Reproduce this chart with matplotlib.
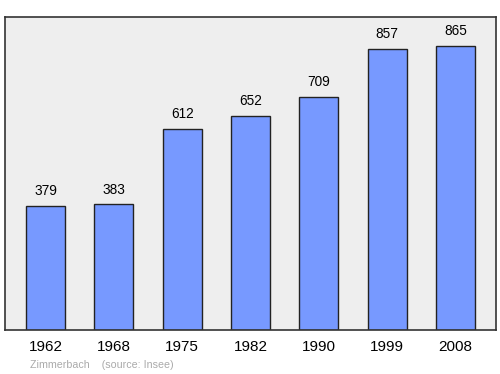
import matplotlib
matplotlib.use("Agg")
from matplotlib import pyplot as plt

years = ["1962", "1968", "1975", "1982", "1990", "1999", "2008"]
population = [379, 383, 612, 652, 709, 857, 865]

plt.rcParams['font.family'] = ['Liberation Sans', 'DejaVu Sans']

fig = plt.figure(figsize=(5.0, 3.74), dpi=100)
ax = fig.add_axes([5 / 500, 1 - 330 / 374, 491 / 500, 313 / 374])
ax.set_facecolor('#eeeeee')

x = list(range(len(years)))
ax.bar(x, population, width=0.57, color='#7799ff', edgecolor='#222222',
       linewidth=1.0, zorder=2)
for xi, v in zip(x, population):
    ax.annotate(str(v), (xi, v), xytext=(0, 5.5), textcoords='offset points',
                ha='center', va='bottom', fontsize=9.8)

ax.set_xlim(-0.593, len(years) - 1 + 0.593)
ax.set_ylim(0, 953)
ax.set_xticks(x)
ax.set_xticklabels(years, fontsize=11)
ax.tick_params(axis='x', length=0, pad=7.5)
ax.set_yticks([])
for s in ax.spines.values():
    s.set_color('#333333')
    s.set_linewidth(1.2)

fig.text(30 / 500, 1 - 365 / 374, "Zimmerbach    (source: Insee)",
         fontsize=7.7, color='#aaaaaa', ha='left', va='center')

fig.savefig("out.png", dpi=100)
